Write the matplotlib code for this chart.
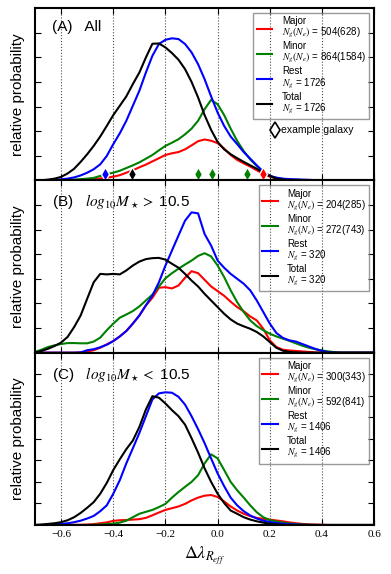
import numpy as np
import matplotlib.pyplot as plt
from matplotlib.lines import Line2D

plt.rcParams['mathtext.fontset'] = 'stix'
plt.rcParams['font.family'] = ['Liberation Sans', 'DejaVu Sans']

# common grid of delta lambda values (step 0.025)
x = np.round(np.linspace(-0.7, 0.6, 53), 3)

# panel A: all galaxies
a_major = [0, 0, 0, 0, 0, 0, 0.01, 0.01, 0.02, 0.04,
           0.08, 0.11, 0.15, 0.21, 0.31, 0.41, 0.53, 0.64, 0.77, 0.9,
           1.03, 1.1, 1.15, 1.26, 1.42, 1.59, 1.66, 1.61, 1.51, 1.29,
           1.03, 0.83, 0.69, 0.56, 0.41, 0.26, 0.15, 0.08, 0.04, 0.02,
           0.01, 0, 0, 0, 0, 0, 0, 0, 0, 0, 0, 0, 0]
a_minor = [0, 0, 0, 0, 0.01, 0.02, 0.03, 0.05, 0.07, 0.1,
           0.18, 0.25, 0.31, 0.39, 0.5, 0.61, 0.73, 0.88, 1.03, 1.22,
           1.4, 1.53, 1.67, 1.87, 2.1, 2.42, 2.89, 3.27, 3.09, 2.65,
           2.1, 1.6, 1.19, 0.85, 0.58, 0.35, 0.18, 0.1, 0.05, 0.03,
           0.02, 0.01, 0, 0, 0, 0, 0, 0, 0, 0, 0, 0, 0]
a_rest = [0, 0, 0, 0.01, 0.04, 0.07, 0.12, 0.2, 0.31, 0.45,
          0.65, 0.99, 1.47, 1.91, 2.42, 3.03, 3.64, 4.38, 5.06, 5.54,
          5.71, 5.77, 5.74, 5.54, 5.2, 4.72, 4.11, 3.41, 2.75, 2.21,
          1.78, 1.47, 1.15, 0.88, 0.61, 0.35, 0.18, 0.11, 0.07, 0.05,
          0.04, 0.03, 0.02, 0.01, 0, 0, 0, 0, 0, 0, 0, 0, 0]
a_total = [0, 0, 0.03, 0.07, 0.14, 0.28, 0.47, 0.75, 1.06, 1.4,
           1.78, 2.21, 2.65, 3.03, 3.41, 3.91, 4.38, 4.99, 5.55, 5.56,
           5.4, 5.17, 4.9, 4.52, 4.0, 3.37, 2.65, 2.05, 1.56, 1.26,
           1.06, 0.9, 0.75, 0.61, 0.47, 0.31, 0.18, 0.07, 0.03, 0.01,
           0, 0, 0, 0, 0, 0, 0, 0, 0, 0, 0, 0, 0]

# panel B: log10 M* > 10.5
b_major = [0, 0, 0, 0, 0, 0, 0, 0.01, 0.05, 0.1,
           0.2, 0.34, 0.47, 0.66, 0.88, 1.18, 1.51, 1.92, 2.23, 2.64,
           2.66, 2.61, 2.73, 3.04, 3.31, 3.23, 2.96, 2.69, 2.5, 2.31,
           2.07, 1.85, 1.68, 1.47, 1.31, 0.97, 0.5, 0.23, 0.12, 0.09,
           0.07, 0.05, 0.03, 0.01, 0, 0, 0, 0, 0, 0, 0, 0, 0]
b_minor = [0.03, 0.12, 0.23, 0.3, 0.35, 0.39, 0.39, 0.38, 0.38, 0.45,
           0.61, 0.91, 1.18, 1.42, 1.55, 1.69, 1.88, 2.12, 2.36, 2.69,
           3.02, 3.23, 3.41, 3.58, 3.74, 3.93, 4.04, 3.91, 3.54, 3.07,
           2.53, 2.05, 1.65, 1.31, 1.08, 0.91, 0.77, 0.66, 0.57, 0.48,
           0.38, 0.28, 0.2, 0.14, 0.09, 0.05, 0.02, 0, 0, 0, 0, 0, 0]
b_rest = [0, 0, 0, 0, 0, 0, 0, 0.01, 0.1, 0.14,
          0.22, 0.32, 0.47, 0.66, 0.88, 1.18, 1.51, 1.92, 2.32, 2.86,
          3.54, 4.15, 4.76, 5.36, 5.7, 5.66, 4.82, 4.35, 3.74, 3.45,
          3.2, 3.0, 2.8, 2.53, 2.12, 1.65, 1.18, 0.8, 0.6, 0.5,
          0.45, 0.35, 0.25, 0.15, 0.07, 0.02, 0, 0, 0, 0, 0, 0, 0]
b_total = [0, 0.07, 0.16, 0.27, 0.41, 0.64, 1.04, 1.51, 2.19, 2.86,
           3.2, 3.18, 3.2, 3.18, 3.34, 3.54, 3.7, 3.8, 3.84, 3.85,
           3.78, 3.61, 3.45, 3.2, 2.93, 2.69, 2.39, 2.12, 1.85, 1.58,
           1.35, 1.18, 1.07, 0.97, 0.84, 0.66, 0.43, 0.2, 0.08, 0.03,
           0.01, 0, 0, 0, 0, 0, 0, 0, 0, 0, 0, 0, 0]

# panel C: log10 M* < 10.5
c_major = [0, 0, 0, 0, 0, 0, 0.01, 0.01, 0.02, 0.04,
           0.08, 0.12, 0.19, 0.22, 0.23, 0.25, 0.27, 0.33, 0.45, 0.58,
           0.7, 0.78, 0.86, 0.98, 1.14, 1.27, 1.36, 1.39, 1.3, 1.09,
           0.86, 0.67, 0.52, 0.41, 0.33, 0.28, 0.25, 0.21, 0.17, 0.12,
           0.08, 0.05, 0.03, 0.02, 0.01, 0, 0, 0, 0, 0, 0, 0, 0]
c_minor = [0, 0, 0, 0, 0, 0, 0, 0, 0, 0.01,
           0.02, 0.04, 0.06, 0.11, 0.2, 0.36, 0.52, 0.61, 0.7, 0.83,
           0.98, 1.27, 1.53, 1.77, 2.0, 2.31, 2.86, 3.28, 3.09, 2.55,
           2.0, 1.61, 1.27, 0.91, 0.59, 0.36, 0.23, 0.16, 0.11, 0.07,
           0.04, 0.02, 0.01, 0, 0, 0, 0, 0, 0, 0, 0, 0, 0]
c_rest = [0, 0, 0.01, 0.03, 0.05, 0.08, 0.13, 0.2, 0.3, 0.42,
          0.64, 0.91, 1.45, 2.08, 2.86, 3.56, 4.27, 5.05, 5.83, 6.11,
          6.16, 6.14, 5.95, 5.59, 5.05, 4.45, 3.8, 3.09, 2.39, 1.8,
          1.27, 0.91, 0.64, 0.44, 0.3, 0.2, 0.14, 0.09, 0.06, 0.04,
          0.02, 0.01, 0, 0, 0, 0, 0, 0, 0, 0, 0, 0, 0]
c_total = [0, 0.02, 0.05, 0.08, 0.13, 0.22, 0.36, 0.56, 0.8, 1.06,
           1.45, 1.95, 2.55, 3.05, 3.52, 3.92, 4.55, 5.36, 5.98, 5.91,
           5.64, 5.33, 5.05, 4.66, 4.03, 3.36, 2.63, 2.0, 1.45, 1.02,
           0.67, 0.52, 0.36, 0.25, 0.17, 0.11, 0.06, 0.03, 0.01, 0,
           0, 0, 0, 0, 0, 0, 0, 0, 0, 0, 0, 0, 0]

# example galaxies in panel A
ex_x = [-0.43, -0.327, -0.074, -0.023, 0.114, 0.172]
ex_col = ['b', 'k', 'g', 'g', 'g', 'r']

panels = [
    ('(A)   All', [a_major, a_minor, a_rest, a_total],
     ['504(628)', '864(1584)', '1726', '1726'], 7),
    ('(B)   $log_{10}M_\\star >$ 10.5', [b_major, b_minor, b_rest, b_total],
     ['204(285)', '272(743)', '320', '320'], 7),
    ('(C)   $log_{10}M_\\star <$ 10.5', [c_major, c_minor, c_rest, c_total],
     ['300(343)', '592(841)', '1406', '1406'], 8),
]
names = ['Major', 'Minor', 'Rest', 'Total']
colors = ['r', 'g', 'b', 'k']

fig, axes = plt.subplots(3, 1, figsize=(3.91, 5.74), dpi=100, sharex=True)
fig.subplots_adjust(left=0.0895, right=0.957, top=0.986, bottom=0.0854, hspace=0.0)

for ax, (title, curves, counts, ytop) in zip(axes, panels):
    for name, col, y, n in zip(names, colors, curves, counts):
        if '(' in n:
            lab = name + '\n$N_g(N_e)$ = ' + n
        else:
            lab = name + '\n$N_g$ = ' + n
        ax.plot(x, y, color=col, lw=1.5, label=lab)
    for gx in [-0.6, -0.4, -0.2, 0.0, 0.2, 0.4]:
        ax.axvline(gx, color='0.3', ls=':', lw=0.8, zorder=0)
    ax.set_xlim(-0.7, 0.6)
    ax.set_ylim(0, ytop)
    ax.set_yticks(np.arange(1, ytop))
    ax.set_yticklabels([])
    ax.set_ylabel('relative probability', fontsize=11)
    ax.tick_params(direction='in', top=True, right=True, length=4, width=0.8)
    for sp in ax.spines.values():
        sp.set_linewidth(1.5)
    ax.text(0.05, 0.93, title, transform=ax.transAxes, fontsize=11, va='top')
    leg = ax.legend(loc='upper right', fontsize=7, handlelength=1.6, labelspacing=0.1,
                    fancybox=False, borderpad=0.35, handletextpad=1.0)
    for t in leg.get_texts():
        t.set_linespacing(1.0)
    leg.get_frame().set_facecolor('none')
    leg.get_frame().set_edgecolor('0.5')
    leg.get_frame().set_linewidth(1.0)

ax = axes[0]
for ex, col in zip(ex_x, ex_col):
    ax.plot(ex, 0.25, marker='d', ms=7, mfc=col, mec='white', mew=1, ls='none', zorder=5)
leg1 = ax.get_legend()
h = Line2D([], [], marker='d', ms=8, mfc='white', mec='k', mew=1.2, ls='none')
ax.legend([h], ['example galaxy'], loc='center left', bbox_to_anchor=(0.665, 0.29),
          frameon=False, fontsize=7.5, handletextpad=0.1, handlelength=1)
ax.add_artist(leg1)

axes[2].set_xticks(np.arange(-0.6, 0.61, 0.2))
axes[2].set_xticklabels(['\u22120.6', '\u22120.4', '\u22120.2', '0.0', '0.2', '0.4', '0.6'],
                        family='Liberation Serif', fontsize=8)
axes[2].set_xlabel('$\\Delta\\lambda_{R_{eff}}$', fontsize=13)

fig.savefig('out.png', dpi=100)
